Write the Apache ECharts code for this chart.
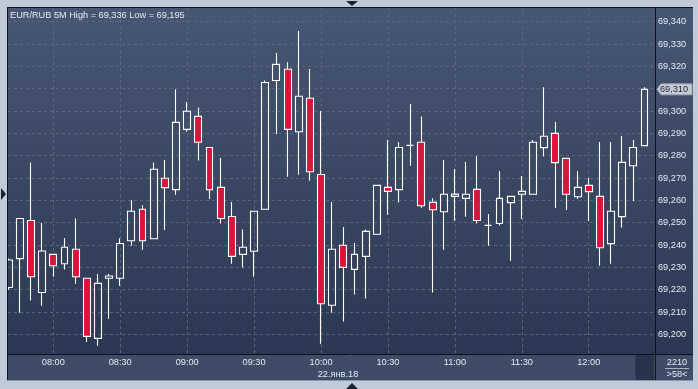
<!DOCTYPE html>
<html><head><meta charset="utf-8">
<script src="https://cdn.jsdelivr.net/npm/echarts@6/dist/echarts.min.js"></script>
<style>html,body{margin:0;padding:0;background:#bfcbd9;overflow:hidden}#c{width:698px;height:389px}</style>
</head><body><div id="c"></div>
<script>
const times = ['07:40','07:45','07:50','07:55','08:00','08:05','08:10','08:15','08:20','08:25','08:30','08:35','08:40','08:45','08:50','08:55','09:00','09:05','09:10','09:15','09:20','09:25','09:30','09:35','09:40','09:45','09:50','09:55','10:00','10:05','10:10','10:15','10:20','10:25','10:30','10:35','10:40','10:45','10:50','10:55','11:00','11:05','11:10','11:15','11:20','11:25','11:30','11:35','11:40','11:45','11:50','11:55','12:00','12:05','12:10','12:15','12:20','12:25'];
const opens  = [69.2210,69.2339,69.2510,69.2187,69.2358,69.2316,69.2381,69.2251,69.1982,69.2251,69.2251,69.2419,69.2560,69.2428,69.2699,69.2648,69.2918,69.2976,69.2837,69.2658,69.2528,69.2358,69.2372,69.2560,69.3137,69.3187,69.2907,69.3057,69.2716,69.2130,69.2399,69.2291,69.2349,69.2448,69.2658,69.2648,69.2846,69.2860,69.2591,69.2549,69.2618,69.2609,69.2649,69.2488,69.2496,69.2590,69.2627,69.2627,69.2836,69.2900,69.2788,69.2616,69.2667,69.2618,69.2406,69.2527,69.2755,69.2845];
const closes = [69.2333,69.2519,69.2258,69.2373,69.2307,69.2390,69.2258,69.1991,69.2228,69.2261,69.2407,69.2551,69.2419,69.2739,69.2657,69.2949,69.2999,69.2860,69.2648,69.2519,69.2349,69.2390,69.2551,69.3128,69.3209,69.2918,69.3066,69.2728,69.2137,69.2381,69.2300,69.2358,69.2461,69.2667,69.2640,69.2837,69.2846,69.2576,69.2558,69.2627,69.2628,69.2627,69.2510,69.2488,69.2609,69.2618,69.2640,69.2860,69.2887,69.2769,69.2627,69.2658,69.2639,69.2388,69.2551,69.2770,69.2837,69.3097];
const lows   = [69.2200,69.2097,69.2151,69.2128,69.2258,69.2290,69.2227,69.1966,69.1949,69.2070,69.2218,69.2397,69.2379,69.2428,69.2467,69.2625,69.2907,69.2778,69.2606,69.2496,69.2316,69.2299,69.2258,69.2560,69.2897,69.2706,69.2715,69.2688,69.1958,69.2097,69.2057,69.2178,69.2160,69.2448,69.2536,69.2590,69.2755,69.2567,69.2187,69.2379,69.2509,69.2527,69.2496,69.2397,69.2487,69.2330,69.2516,69.2627,69.2796,69.2566,69.2557,69.2606,69.2507,69.2307,69.2316,69.2478,69.2597,69.2845];
const highs  = [69.2340,69.2519,69.2770,69.2499,69.2358,69.2431,69.2519,69.2251,69.2270,69.2270,69.2430,69.2600,69.2578,69.2770,69.2781,69.3097,69.3040,69.3016,69.2837,69.2790,69.2593,69.2470,69.2551,69.3137,69.3260,69.3218,69.3358,69.3188,69.3000,69.2593,69.2481,69.2409,69.2470,69.2667,69.2870,69.2860,69.3031,69.2976,69.2609,69.2781,69.2740,69.2772,69.2799,69.2539,69.2731,69.2618,69.2709,69.2870,69.3107,69.2951,69.2788,69.2731,69.2700,69.2861,69.2861,69.2888,69.2870,69.3107];
const xTickLabels = ['08:00','08:30','09:00','09:30','10:00','10:30','11:00','11:30','12:00'];
const yTickValues = [69.20,69.21,69.22,69.23,69.24,69.25,69.26,69.27,69.28,69.29,69.30,69.31,69.32,69.33,69.34];
const symbol = 'EUR/RUB';
const period = '5M';
const dateLabel = '22.янв.18';
const cornerTop = '2210';
const cornerBottom = '>58<';

const FONT = '"Liberation Sans", Arial, sans-serif';
const FS = 9.2;
const TXT = '#e4e9f1';
const fmt = v => v.toFixed(3).replace('.', ',');
const xTickVals = xTickLabels.map(l => times.indexOf(l));
const hi = Math.max.apply(null, highs), lo = Math.min.apply(null, lows);

const chart = echarts.init(document.getElementById('c'), null, {renderer: 'canvas'});
chart.setOption({
  animation: false,
  backgroundColor: '#bfcbd9',
  grid: {left: 8, right: 43, top: 8, bottom: 35, containLabel: false},
  xAxis: {
    type: 'value', min: -0.061, max: 57.939, position: 'bottom',
    axisLine: {show: false},
    axisTick: {show: false, customValues: xTickVals},
    axisLabel: {customValues: xTickVals, formatter: v => times[Math.round(v)], color: TXT, fontSize: FS, fontFamily: FONT, margin: 4},
    splitLine: {show: true, lineStyle: {color: '#59667f', type: [3, 3], width: 1}}
  },
  yAxis: {
    type: 'value', position: 'right', min: 69.19119, max: 69.34614,
    axisLine: {show: false},
    axisTick: {show: false, customValues: yTickValues},
    axisLabel: {customValues: yTickValues, formatter: fmt, color: TXT, fontSize: FS, fontFamily: FONT, margin: 3, align: 'left'},
    splitLine: {show: true, lineStyle: {color: '#59667f', type: [3, 3], width: 1}}
  },
  series: [{
    type: 'candlestick',
    data: times.map((t, i) => [i, opens[i], closes[i], lows[i], highs[i]]),
    encode: {x: 0, y: [1, 2, 3, 4]},
    barWidth: 7.4,
    itemStyle: {color: 'rgba(0,0,0,0)', color0: '#dc143c', borderColor: '#ffffff', borderColor0: '#ffffff', borderColorDoji: '#ffffff', borderWidth: 1.1},
    z: 5
  }]
});

const lastClose = closes[closes.length - 1];
const py = chart.convertToPixel({yAxisIndex: 0}, lastClose);
const grad = () => new echarts.graphic.LinearGradient(0, 0, 0, 1, [{offset: 0, color: '#475672'}, {offset: 1, color: '#2b3853'}]);
const FRAME = '#bfcbd9', DARK = '#0e121b';
const g = [
  {type: 'rect', z: -10, shape: {x: 8, y: 8, width: 647, height: 346}, style: {fill: grad()}},
  {type: 'rect', z: -10, shape: {x: 656, y: 8, width: 37, height: 346}, style: {fill: grad()}},
  {type: 'rect', z: -10, shape: {x: 8, y: 355, width: 647, height: 25}, style: {fill: '#3f4c67'}},
  {type: 'rect', z: -10, shape: {x: 656, y: 355, width: 37, height: 25}, style: {fill: '#3f4c67'}},
  {type: 'rect', z: -9, shape: {x: 636, y: 355, width: 18, height: 25}, style: {fill: '#27334a'}},
  {type: 'line', z: -9, shape: {x1: 635.5, y1: 356, x2: 635.5, y2: 379}, style: {stroke: '#33405a', lineWidth: 1}},
  {type: 'rect', z: 40, shape: {x: 0, y: 0, width: 7, height: 389}, style: {fill: FRAME}},
  {type: 'line', z: 50, shape: {x1: 7, y1: 7.5, x2: 693, y2: 7.5}, style: {stroke: DARK, lineWidth: 1}},
  {type: 'line', z: 50, shape: {x1: 7.5, y1: 7, x2: 7.5, y2: 381}, style: {stroke: DARK, lineWidth: 1}},
  {type: 'line', z: 50, shape: {x1: 655.5, y1: 8, x2: 655.5, y2: 380}, style: {stroke: DARK, lineWidth: 1}},
  {type: 'line', z: 50, shape: {x1: 8, y1: 354.5, x2: 693, y2: 354.5}, style: {stroke: DARK, lineWidth: 1}},
  {type: 'line', z: 50, shape: {x1: 7, y1: 380.5, x2: 693, y2: 380.5}, style: {stroke: '#8d99ab', lineWidth: 1}},
  {type: 'polygon', z: 50, shape: {points: [[346, 1], [358, 1], [352, 6]]}, style: {fill: '#1a2233'}},
  {type: 'polygon', z: 50, shape: {points: [[1, 188], [1, 200], [6, 194]]}, style: {fill: '#1a2233'}},
  {type: 'polygon', z: 50, shape: {points: [[346, 389], [358, 389], [352, 383]]}, style: {fill: '#1a2233'}},
  {type: 'text', z: 50, style: {text: symbol + ' ' + period + ' High = ' + fmt(hi) + ' Low = ' + fmt(lo), x: 10, y: 15, fill: TXT, font: FS + 'px ' + FONT, align: 'left', verticalAlign: 'middle'}},
  {type: 'text', z: 50, style: {text: dateLabel, x: 338, y: 374, fill: TXT, font: FS + 'px ' + FONT, align: 'center', verticalAlign: 'middle'}},
  {type: 'text', z: 50, style: {text: cornerTop, x: 677, y: 362, fill: TXT, font: FS + 'px ' + FONT, align: 'center', verticalAlign: 'middle'}},
  {type: 'line', z: 50, shape: {x1: 665, y1: 368.5, x2: 689, y2: 368.5}, style: {stroke: '#a9b3c3', lineWidth: 1}},
  {type: 'text', z: 50, style: {text: cornerBottom, x: 677, y: 374.5, fill: TXT, font: FS + 'px ' + FONT, align: 'center', verticalAlign: 'middle'}},
  {type: 'polygon', z: 60, shape: {points: [[657, py], [661, py - 5.5], [692, py - 5.5], [692, py + 5.5], [661, py + 5.5]]}, style: {fill: '#c7ccd4', stroke: '#9aa3b1', lineWidth: 1}},
  {type: 'text', z: 61, style: {text: fmt(lastClose), x: 674, y: py + 0.5, fill: '#1b2742', font: FS + 'px ' + FONT, align: 'center', verticalAlign: 'middle'}}
];
chart.setOption({graphic: {elements: g}});
</script>
</body></html>
